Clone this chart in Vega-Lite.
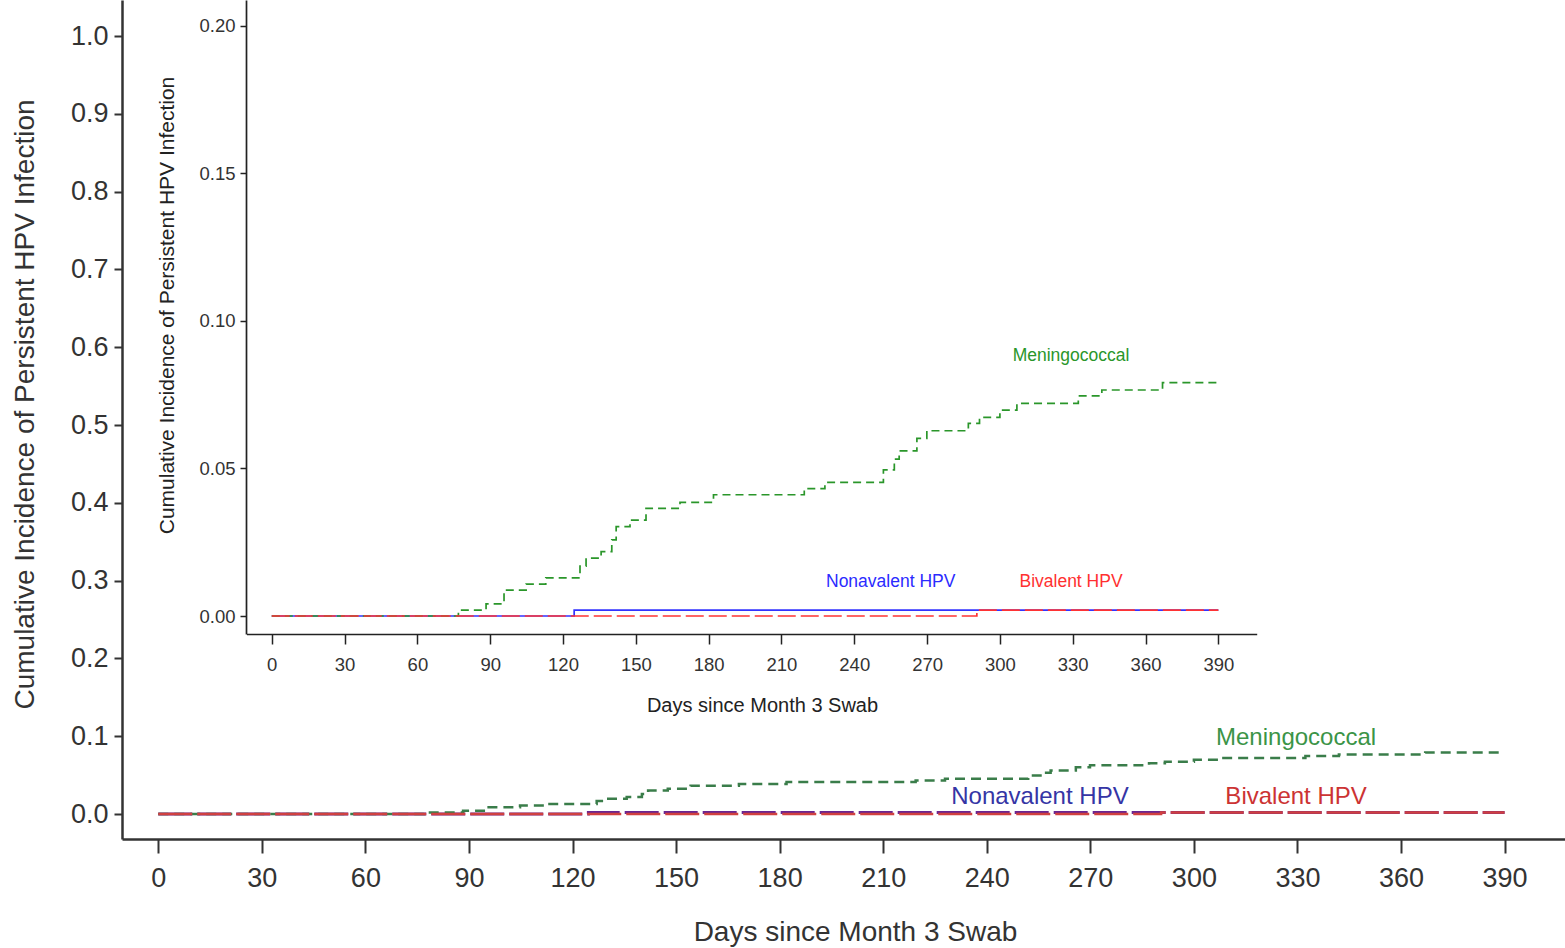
{
  "$schema": "https://vega.github.io/schema/vega-lite/v6.json",
  "width": 1443,
  "height": 839,
  "autosize": {"type": "none"},
  "padding": {"left": 122, "top": 0, "right": 0, "bottom": 109},
  "background": "white",
  "config": {
    "view": {"stroke": null},
    "font": "Liberation Sans",
    "axis": {"grid": false, "labelFont": "Liberation Sans", "titleFont": "Liberation Sans", "titleFontWeight": "normal"}
  },
  "datasets": {
    "km": [
      {"group": "Meningococcal", "day": 0, "value": 0},
      {"group": "Meningococcal", "day": 76.9, "value": 0.002},
      {"group": "Meningococcal", "day": 88.3, "value": 0.0041},
      {"group": "Meningococcal", "day": 95.7, "value": 0.0088},
      {"group": "Meningococcal", "day": 104.8, "value": 0.0108},
      {"group": "Meningococcal", "day": 112.9, "value": 0.0129},
      {"group": "Meningococcal", "day": 127, "value": 0.0169},
      {"group": "Meningococcal", "day": 129.5, "value": 0.0196},
      {"group": "Meningococcal", "day": 135.7, "value": 0.0218},
      {"group": "Meningococcal", "day": 140.1, "value": 0.0258},
      {"group": "Meningococcal", "day": 141.9, "value": 0.0303},
      {"group": "Meningococcal", "day": 147.6, "value": 0.0325},
      {"group": "Meningococcal", "day": 154.2, "value": 0.0365},
      {"group": "Meningococcal", "day": 168.2, "value": 0.0385},
      {"group": "Meningococcal", "day": 182, "value": 0.0411},
      {"group": "Meningococcal", "day": 219.4, "value": 0.0432},
      {"group": "Meningococcal", "day": 227.9, "value": 0.0453},
      {"group": "Meningococcal", "day": 252, "value": 0.0495},
      {"group": "Meningococcal", "day": 256.5, "value": 0.0532},
      {"group": "Meningococcal", "day": 258.5, "value": 0.056},
      {"group": "Meningococcal", "day": 265.8, "value": 0.0602},
      {"group": "Meningococcal", "day": 269.9, "value": 0.0628},
      {"group": "Meningococcal", "day": 287, "value": 0.0653},
      {"group": "Meningococcal", "day": 291.6, "value": 0.0673},
      {"group": "Meningococcal", "day": 300, "value": 0.0698},
      {"group": "Meningococcal", "day": 307, "value": 0.0721},
      {"group": "Meningococcal", "day": 332.3, "value": 0.0746},
      {"group": "Meningococcal", "day": 342, "value": 0.0766},
      {"group": "Meningococcal", "day": 367, "value": 0.0791},
      {"group": "Meningococcal", "day": 390, "value": 0.0791},
      {"group": "Nonavalent HPV", "day": 0, "value": 0},
      {"group": "Nonavalent HPV", "day": 124.6, "value": 0.002},
      {"group": "Nonavalent HPV", "day": 390, "value": 0.002},
      {"group": "Bivalent HPV", "day": 0, "value": 0},
      {"group": "Bivalent HPV", "day": 290.5, "value": 0.002},
      {"group": "Bivalent HPV", "day": 390, "value": 0.002}
    ],
    "labelsMain": [
      {"group": "Meningococcal", "day": 329.6, "value": 0.0977},
      {"group": "Nonavalent HPV", "day": 255.4, "value": 0.0219},
      {"group": "Bivalent HPV", "day": 329.6, "value": 0.0219}
    ],
    "labelsInset": [
      {"group": "Meningococcal", "day": 329.3, "value": 0.0881},
      {"group": "Nonavalent HPV", "day": 255, "value": 0.0114},
      {"group": "Bivalent HPV", "day": 329.3, "value": 0.0114}
    ]
  },
  "layer": [
    {
      "encoding": {
        "x": {
          "field": "day", "type": "quantitative",
          "scale": {"domain": [-10.5, 407.5], "nice": false, "zero": false},
          "axis": {
            "orient": "bottom",
            "values": [0, 30, 60, 90, 120, 150, 180, 210, 240, 270, 300, 330, 360, 390],
            "tickSize": 14, "tickWidth": 2, "tickColor": "#333",
            "domainColor": "#333", "domainWidth": 2.5,
            "labelFontSize": 27, "labelPadding": 12, "labelColor": "#333",
            "title": "Days since Month 3 Swab", "titleFontSize": 28, "titleColor": "#333",
            "titleX": 733, "titleY": 93, "titleBaseline": "middle", "titleAlign": "center"
          }
        },
        "y": {
          "field": "value", "type": "quantitative",
          "scale": {"domain": [-0.0321, 1.0463], "nice": false, "zero": false},
          "axis": {
            "orient": "left",
            "values": [0, 0.1, 0.2, 0.3, 0.4, 0.5, 0.6, 0.7, 0.8, 0.9, 1.0],
            "format": ".1f",
            "tickSize": 8, "tickWidth": 2, "tickColor": "#333",
            "domainColor": "#333", "domainWidth": 2.5,
            "labelFontSize": 27, "labelPadding": 6, "labelColor": "#333",
            "title": "Cumulative Incidence of Persistent HPV Infection", "titleFontSize": 28, "titleColor": "#333",
            "titleX": -97, "titleY": 404, "titleBaseline": "middle", "titleAlign": "center", "titleAngle": -90
          }
        }
      },
      "layer": [
        {
          "data": {"name": "km"},
          "transform": [{"filter": "datum.group === 'Nonavalent HPV'"}],
          "mark": {"type": "line", "interpolate": "step-after", "color": "#6a2590", "strokeWidth": 3, "strokeDash": [34, 5]}
        },
        {
          "data": {"name": "km"},
          "transform": [{"filter": "datum.group === 'Meningococcal'"}],
          "mark": {"type": "line", "interpolate": "step-after", "color": "#3a7d4a", "strokeWidth": 2.5, "strokeDash": [10, 6]}
        },
        {
          "data": {"name": "km"},
          "transform": [{"filter": "datum.group === 'Bivalent HPV'"}],
          "mark": {"type": "line", "interpolate": "step-after", "color": "#d04040", "strokeWidth": 2.5, "strokeDash": [34, 5]}
        },
        {
          "data": {"name": "labelsMain"},
          "mark": {"type": "text", "fontSize": 24, "align": "center", "baseline": "middle", "font": "Liberation Sans"},
          "encoding": {
            "text": {"field": "group"},
            "color": {"field": "group", "type": "nominal", "legend": null,
              "scale": {"domain": ["Meningococcal", "Nonavalent HPV", "Bivalent HPV"], "range": ["#3b9447", "#3535a5", "#cc3333"]}}
          }
        }
      ]
    },
    {
      "encoding": {
        "x": {
          "field": "day", "type": "quantitative",
          "scale": {"domain": [-10.4, 405.8], "range": [124.5, 1134.7], "nice": false, "zero": false},
          "axis": {
            "orient": "bottom", "offset": -205,
            "values": [0, 30, 60, 90, 120, 150, 180, 210, 240, 270, 300, 330, 360, 390],
            "tickSize": 10, "tickWidth": 1.5, "tickColor": "#222",
            "domainColor": "#222", "domainWidth": 1.7,
            "labelFontSize": 18.5, "labelPadding": 11, "labelColor": "#333",
            "title": "Days since Month 3 Swab", "titleFontSize": 20, "titleColor": "#222",
            "titleX": 640, "titleY": 71, "titleBaseline": "middle", "titleAlign": "center"
          }
        },
        "y": {
          "field": "value", "type": "quantitative",
          "scale": {"domain": [-0.0061, 0.2088], "range": [634, 0], "nice": false, "zero": false},
          "axis": {
            "orient": "left", "offset": -124,
            "values": [0, 0.05, 0.1, 0.15, 0.2],
            "format": ".2f",
            "tickSize": 6, "tickWidth": 1.5, "tickColor": "#222",
            "domainColor": "#222", "domainWidth": 1.7,
            "labelFontSize": 18.5, "labelPadding": 5, "labelColor": "#333",
            "title": "Cumulative Incidence of Persistent HPV Infection", "titleFontSize": 21, "titleColor": "#222",
            "titleX": -79, "titleY": 305, "titleBaseline": "middle", "titleAlign": "center", "titleAngle": -90
          }
        }
      },
      "layer": [
        {
          "data": {"name": "km"},
          "transform": [{"filter": "datum.group === 'Nonavalent HPV'"}],
          "mark": {"type": "line", "interpolate": "step-after", "color": "#3333ff", "strokeWidth": 1.7}
        },
        {
          "data": {"name": "km"},
          "transform": [{"filter": "datum.group === 'Meningococcal'"}],
          "mark": {"type": "line", "interpolate": "step-after", "color": "#2a962a", "strokeWidth": 1.7, "strokeDash": [8, 5]}
        },
        {
          "data": {"name": "km"},
          "transform": [{"filter": "datum.group === 'Bivalent HPV'"}],
          "mark": {"type": "line", "interpolate": "step-after", "color": "#ff3333", "strokeWidth": 1.7, "strokeDash": [18, 5]}
        },
        {
          "data": {"name": "labelsInset"},
          "mark": {"type": "text", "fontSize": 17.5, "align": "center", "baseline": "middle", "font": "Liberation Sans"},
          "encoding": {
            "text": {"field": "group"},
            "color": {"field": "group", "type": "nominal", "legend": null,
              "scale": {"domain": ["Meningococcal", "Nonavalent HPV", "Bivalent HPV"], "range": ["#2a962a", "#2b2bff", "#ff3030"]}}
          }
        }
      ]
    }
  ],
  "resolve": {
    "scale": {"x": "independent", "y": "independent", "color": "independent"},
    "axis": {"x": "independent", "y": "independent"}
  }
}
